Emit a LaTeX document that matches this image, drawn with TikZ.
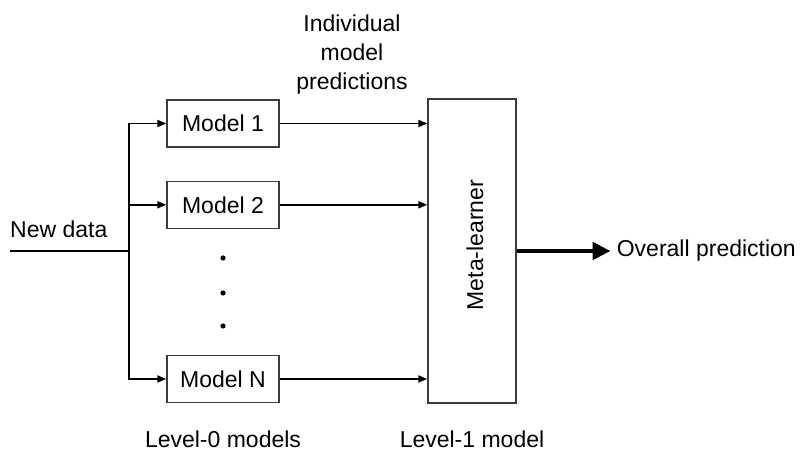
\documentclass[tikz,border=0pt]{standalone}
\usepackage{fontspec}
\setmainfont{Liberation Sans}
\usetikzlibrary{positioning,arrows.meta}
\definecolor{boxline}{RGB}{60,60,60}

\begin{document}
\begin{tikzpicture}[x=1pt,y=1pt,font=\fontsize{23}{28}\selectfont,
  >={Triangle[length=9pt,width=7pt]},node distance=33pt and 38pt,
  model/.style={draw=boxline,line width=1.3pt,minimum width=112pt,minimum height=47pt,inner sep=0pt},
  meta/.style={draw=boxline,line width=1.3pt,minimum width=88pt,minimum height=304pt,inner sep=0pt},
  flow/.style={line width=1.8pt},
  txt/.style={inner sep=0pt,align=center}]
  \useasboundingbox (0,0) rectangle (801,452);
  \node[model] (m1) at (223,328.5) {Model 1};
  \node[model,below=of m1] (m2) {Model 2};
  \node[model] (mN) at (223,73) {Model N};
  \node[meta] (meta) at (472,201) {};
  \node[txt,rotate=90] (metatxt) at ([xshift=3pt,yshift=6pt]meta.center) {Meta-learner};
  % dots between model 2 and model N
  \foreach \y/\n in {194/a,159/b,126/c}
    \fill (223,\y) circle (2.6pt) coordinate (dot\n);
  % input split
  \coordinate (in) at (10,201);
  \coordinate (br) at (129,201);
  \node[txt,anchor=base west] (newdata) at ([yshift=13pt]in) {New data};
  \draw[flow] (in) -- (br);
  \draw[flow,->] (br) |- (m1.west);
  \draw[flow,->] (br) |- (m2.west);
  \draw[flow,->] (br) |- (mN.west);
  % to the meta-learner
  \draw[flow,->] (m1.east) -- (m1.east -| meta.west);
  \draw[flow,->] (m2.east) -- (m2.east -| meta.west);
  \draw[flow,->] (mN.east) -- (mN.east -| meta.west);
  \node[txt,anchor=north,font=\fontsize{23}{29}\selectfont] (indiv) at (352,437) {Individual\\model\\predictions};
  % output
  \node[txt,right=94pt of meta,inner xsep=6pt] (pred) {Overall prediction};
  \draw[line width=4.5pt,-{Triangle[length=18pt,width=17pt]}] (meta) -- (pred);
  % level labels
  \node[txt,anchor=base] (lvl0) at (223,4) {Level-0 models};
  \node[txt,anchor=base] (lvl1) at (472,4) {Level-1 model};
\end{tikzpicture}
\end{document}
